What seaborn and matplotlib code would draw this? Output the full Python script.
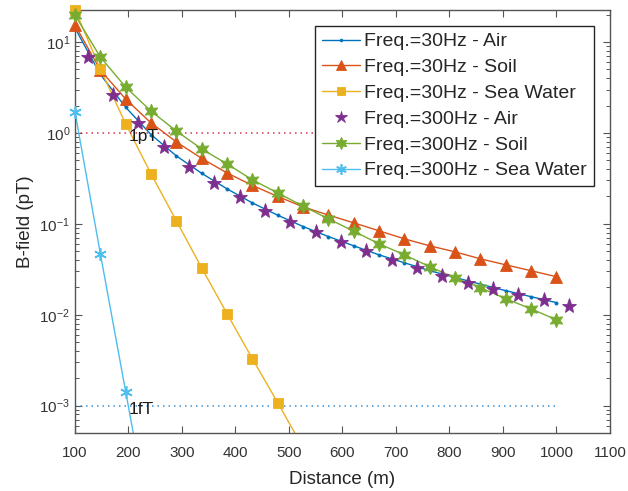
import numpy as np
import pandas as pd
import matplotlib
matplotlib.use("Agg")
import matplotlib.pyplot as plt
from matplotlib.lines import Line2D
import seaborn as sns

# ---------------- data ----------------
dist = [100, 147.4, 194.7, 242.1, 289.5, 336.8, 384.2, 431.6, 478.9, 526.3,
        573.7, 621.1, 668.4, 715.8, 763.2, 810.5, 857.9, 905.3, 952.6, 1000]
dist_air300 = [123.7, 171.1, 218.4, 265.8, 313.2, 360.5, 407.9, 455.3, 502.6, 550.0,
               597.4, 644.7, 692.1, 739.5, 786.8, 834.2, 881.6, 928.9, 976.3, 1023.7]

air30 = [14.3, 4.4, 1.92, 0.96, 0.559, 0.36, 0.2426, 0.170, 0.1245, 0.0935,
         0.0725, 0.0573, 0.0456, 0.0373, 0.0305, 0.0257, 0.0217, 0.0184, 0.0158, 0.0136]
soil30 = [15.4, 4.92, 2.36, 1.29, 0.797, 0.525, 0.363, 0.265, 0.200, 0.154,
          0.125, 0.1026, 0.0838, 0.0684, 0.0573, 0.0492, 0.0412, 0.0354, 0.0305, 0.0262]
sea30 = [22.8, 5.05, 1.26, 0.355, 0.108, 0.0328, 0.01026, 0.00328, 0.00108, 0.000345, 0.00011]
air300 = [6.84, 2.62, 1.29, 0.702, 0.423, 0.282, 0.198, 0.139, 0.105, 0.0818,
          0.0637, 0.050, 0.0402, 0.0328, 0.0268, 0.0225, 0.0192, 0.0166, 0.0145, 0.0126]
soil300 = [19.8, 6.84, 3.2, 1.74, 1.05, 0.667, 0.456, 0.305, 0.219, 0.157,
           0.1135, 0.083, 0.0603, 0.0456, 0.0337, 0.0255, 0.0198, 0.015, 0.0116, 0.0088]
sea300 = [1.7, 0.047, 0.00143, 0.000044]

labels = ["Freq.=30Hz - Air", "Freq.=30Hz - Soil", "Freq.=30Hz - Sea Water",
          "Freq.=300Hz - Air", "Freq.=300Hz - Soil", "Freq.=300Hz - Sea Water"]

ref_x = [100, 1000]
ref_1pT = [1.0, 1.0]
ref_1fT = [1e-3, 1e-3]

xticks = [100, 200, 300, 400, 500, 600, 700, 800, 900, 1000, 1100]
ylim = (5.0e-4, 22.8)

# ---------------- style ----------------
sns.set_style("ticks")
plt.rcParams["font.family"] = ["Liberation Sans", "DejaVu Sans"]
plt.rcParams["axes.unicode_minus"] = False

fig = plt.figure(figsize=(6.28, 4.91), dpi=100)
ax = fig.add_axes([0.1194, 0.1181, 0.8519, 0.8625])
ax.set_yscale("log")

series = [
    (dist, air30, "#0072BD", ".", 4.5, "-"),
    (dist, soil30, "#D95319", "^", 8.5, "-"),
    (dist[:len(sea30)], sea30, "#EDB120", "s", 6.5, "-"),
    (dist_air300, air300, "#7E2F8E", "*", 11, ""),
    (dist, soil300, "#77AC30", (6, 1, 0), 10.5, "-"),
    (dist[:len(sea300)], sea300, "#4DBEEE", (6, 2, 0), 9, "-"),
]

handles = []
for (xs, ys, c, m, ms, ls), lab in zip(series, labels):
    df = pd.DataFrame({"x": xs, "y": ys})
    if ls:
        sns.lineplot(data=df, x="x", y="y", color=c, lw=1.0, ax=ax,
                     legend=False, sort=False, errorbar=None)
    vis = df[(df["y"] >= ylim[0]) & (df["y"] <= ylim[1] * 1.001)]
    mew = 1.2 if m == (6, 2, 0) else 0.6
    sns.lineplot(data=vis, x="x", y="y", color=c, ls="", marker=m, ms=ms,
                 mec=c, mfc=c, mew=mew, clip_on=False, ax=ax, legend=False,
                 sort=False, errorbar=None, zorder=3)
    handles.append(Line2D([], [], color=c, lw=1.0, ls=ls if ls else "none",
                          marker=m, ms=ms * 0.85, mec=c, mfc=c, mew=mew))

# reference lines
sns.lineplot(x=ref_x, y=ref_1pT, color="#d8344f", lw=1.1, ls=(0, (1, 2.6)),
             ax=ax, legend=False, errorbar=None)
sns.lineplot(x=ref_x, y=ref_1fT, color="#3a92d6", lw=1.1, ls=(0, (1, 2.6)),
             ax=ax, legend=False, errorbar=None)

ax.annotate("1pT", xy=(200, 1.0), xytext=(0, -2.8), textcoords="offset points",
            ha="left", va="center", fontsize=12.5, color="#1a1a1a")
ax.annotate("1fT", xy=(200, 1e-3), xytext=(0, -2.8), textcoords="offset points",
            ha="left", va="center", fontsize=12.5, color="#1a1a1a")

ax.set_xlim(100, 1100)
ax.set_ylim(*ylim)
ax.set_xticks(xticks)
ax.set_xticklabels([str(t) for t in xticks])

ax.set_xlabel("Distance (m)", fontsize=13.5, color="#262626", labelpad=8)
ax.set_ylabel("B-field (pT)", fontsize=13.5, color="#262626", labelpad=4)

for s in ax.spines.values():
    s.set_visible(True)
    s.set_color("#555555")
    s.set_linewidth(1.0)
ax.tick_params(which="both", direction="in", top=True, right=True,
               colors="#555555", labelcolor="#333333", labelsize=11)
ax.tick_params(which="major", length=5, width=0.8)
ax.tick_params(which="minor", length=2.8, width=0.7)
ax.tick_params(axis="x", which="minor", bottom=False, top=False)
ax.tick_params(axis="x", which="major", pad=9)

leg = ax.legend(handles, labels, loc="upper right", bbox_to_anchor=(0.970, 0.961),
                borderaxespad=0, fontsize=14, frameon=True, fancybox=False,
                framealpha=1, edgecolor="#262626", handlelength=2.0,
                handletextpad=0.2, labelspacing=0.42, borderpad=0.35,
                labelcolor="#262626")
leg.get_frame().set_linewidth(1.0)

fig.savefig("out.png", dpi=100)
